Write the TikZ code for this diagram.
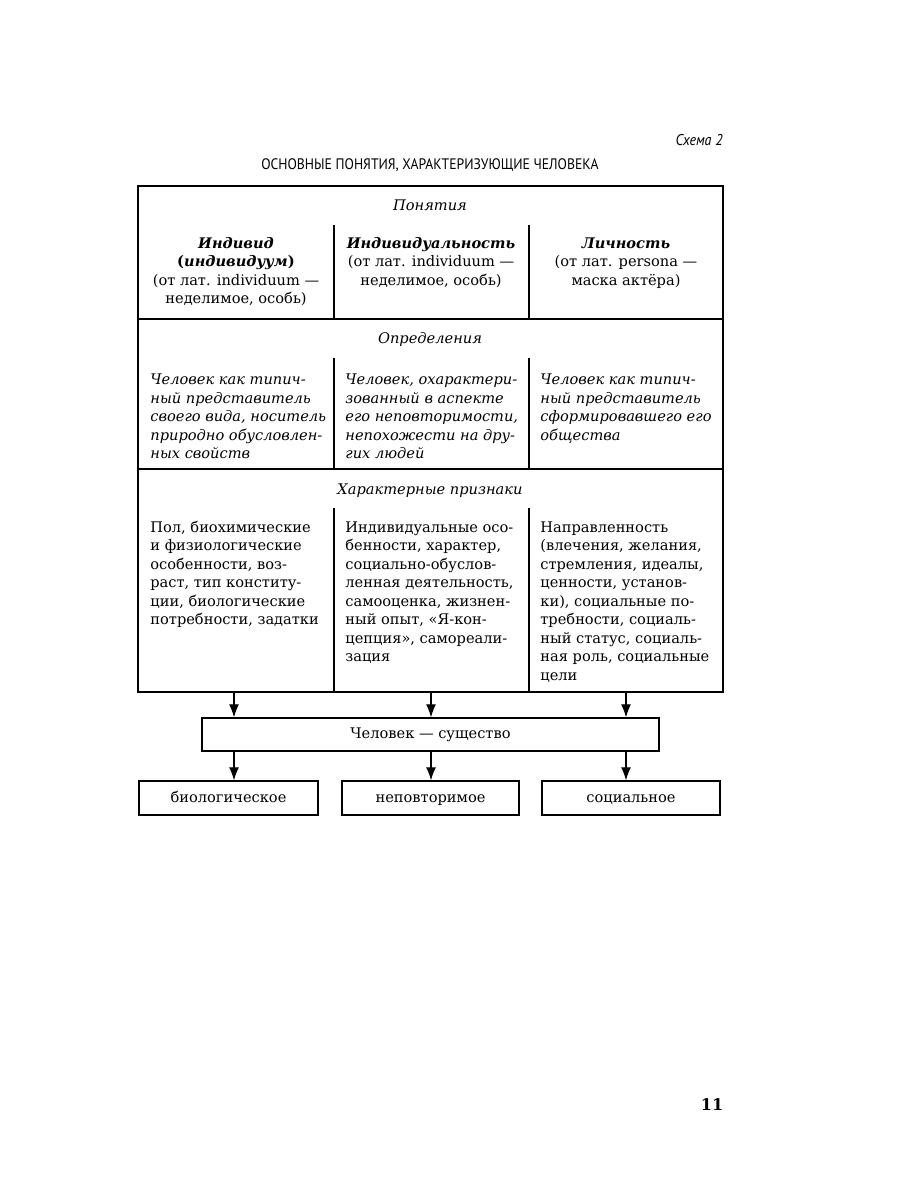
\documentclass[tikz,border=0pt]{standalone}
\usepackage{fontspec}
\setmainfont{DejaVu Serif}
\newfontfamily\titlefont[FakeStretch=0.9]{PT Sans}
\usetikzlibrary{arrows.meta}
\begin{document}
\begin{tikzpicture}[x=0.5pt,y=-0.5pt,
  txt/.style={font=\fontsize{7.3}{9.25}\selectfont, inner sep=0},
  cell/.style={txt, anchor=north west, align=left},
  icell/.style={cell, font=\fontsize{7.3}{9.3}\selectfont\itshape},
  head/.style={txt, anchor=north, align=center},
  sect/.style={txt, anchor=base, font=\fontsize{7.3}{9.25}\selectfont\itshape},
  frame/.style={draw, line width=0.65pt, inner sep=0},
  divider/.style={line width=0.55pt},
  arr/.style={line width=0.6pt, -{Latex[length=6.5pt,width=5pt]}},
  boxtext/.style={frame, font=\fontsize{7.3}{9.25}\selectfont, minimum height=17pt, text height=5.6pt, text depth=1.4pt}
]
\useasboundingbox[fill=white] (0,0) rectangle (900,1200);

% header texts
\node[font=\titlefont\itshape\fontsize{7.8}{9}\selectfont, anchor=base east, inner sep=0] (schema) at (723,145) {Схема 2};
\node[font=\titlefont\fontsize{7.6}{9}\selectfont, anchor=base, inner sep=0] (title) at (430,169) {ОСНОВНЫЕ ПОНЯТИЯ, ХАРАКТЕРИЗУЮЩИЕ ЧЕЛОВЕКА};

% outer table
\node[frame, minimum width=292.5pt, minimum height=253pt] (outer) at (430.5,439) {};
\draw[divider] (138,319) -- (723,319);
\draw[divider] (138,469) -- (723,469);
\draw[divider] (334,225) -- (334,319);
\draw[divider] (529,225) -- (529,319);
\draw[divider] (334,358) -- (334,469);
\draw[divider] (529,358) -- (529,469);
\draw[divider] (334,508) -- (334,692);
\draw[divider] (529,508) -- (529,692);

% section headings
\node[sect] (s1) at (430,210) {Понятия};
\node[sect] (s2) at (430,343) {Определения};
\node[sect] (s3) at (430,494) {Характерные признаки};

% concepts
\node[head] (h1) at (236,235) {\strut\textbf{\textit{Индивид}}\\\textbf{(\textit{индивидуум})}\\(от лат. individuum —\\неделимое, особь)};
\node[head] (h2) at (431,235) {\strut\textbf{\textit{Индивидуальность}}\\(от лат. individuum —\\неделимое, особь)};
\node[head] (h3) at (626,235) {\strut\textbf{\textit{Личность}}\\(от лат. persona —\\маска актёра)};

% definitions
\node[icell] (d1) at (150,371) {\strut Человек как типич-\\ный представитель\\своего вида, носитель\\природно обусловлен-\\ных свойств};
\node[icell] (d2) at (345,371) {\strut Человек, охарактери-\\зованный в аспекте\\его неповторимости,\\непохожести на дру-\\гих людей};
\node[icell] (d3) at (540,371) {\strut Человек как типич-\\ный представитель\\сформировавшего его\\общества};

% features
\node[cell] (f1) at (150,519) {\strut Пол, биохимические\\и физиологические\\особенности, воз-\\раст, тип конститу-\\ции, биологические\\потребности, задатки};
\node[cell] (f2) at (345,519) {\strut Индивидуальные осо-\\бенности, характер,\\социально-обуслов-\\ленная деятельность,\\самооценка, жизнен-\\ный опыт, «Я-кон-\\цепция», самореали-\\зация};
\node[cell] (f3) at (540,519) {\strut Направленность\\(влечения, желания,\\стремления, идеалы,\\ценности, установ-\\ки), социальные по-\\требности, социаль-\\ный статус, социаль-\\ная роль, социальные\\цели};

% lower boxes
\node[boxtext, minimum width=228.5pt, minimum height=16.5pt] (hum) at (430.5,734.5) {Человек — существо};
\node[boxtext, minimum width=89.5pt] (bio) at (228.5,798) {биологическое};
\node[boxtext, minimum width=88.5pt] (uniq) at (430.5,798) {неповторимое};
\node[boxtext, minimum width=89pt] (soc) at (631,798) {социальное};

\coordinate (a1) at (234,0);
\coordinate (a2) at (431,0);
\coordinate (a3) at (626,0);
\foreach \c in {a1,a2,a3}{
  \draw[arr] (outer.south -| \c) -- (hum.north -| \c);
  \draw[arr] (hum.south -| \c) -- (bio.north -| \c);
}

\node[font=\bfseries\fontsize{8}{9}\selectfont, anchor=base, inner sep=0] (page) at (712,1110) {11};
\end{tikzpicture}
\end{document}
